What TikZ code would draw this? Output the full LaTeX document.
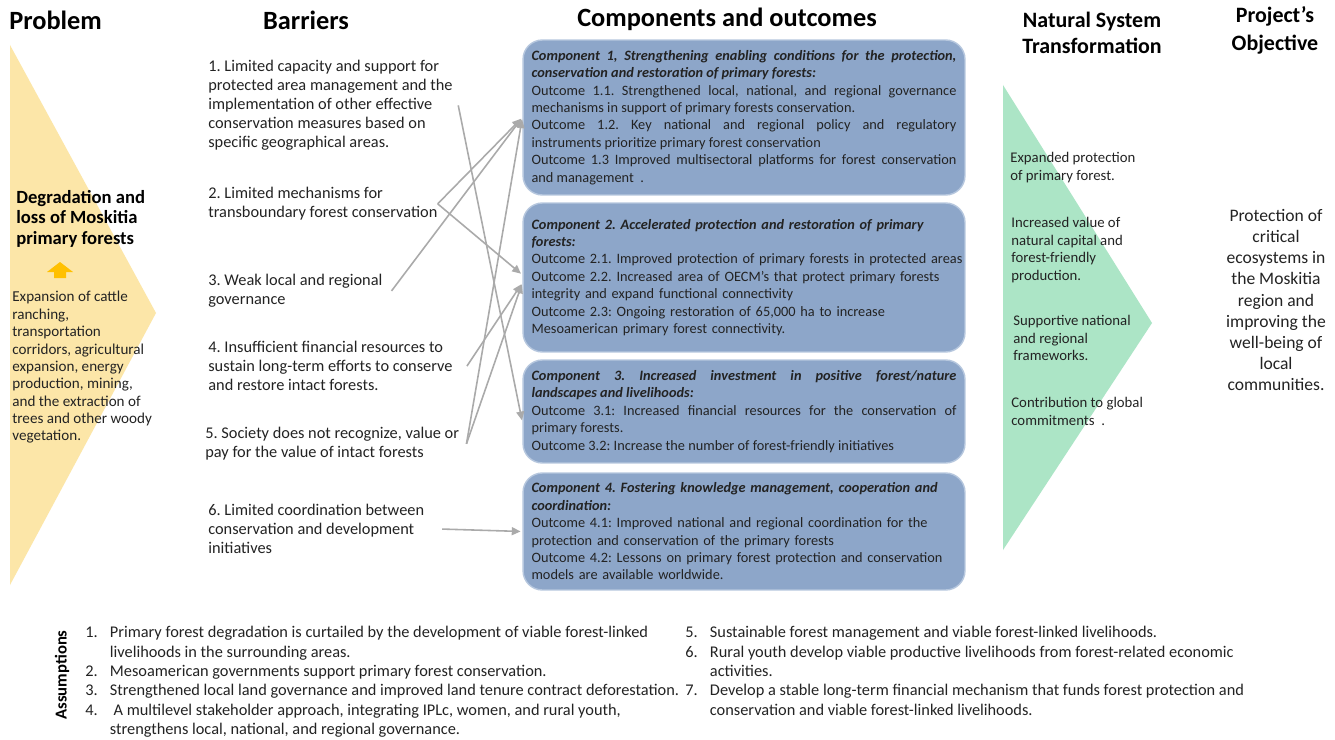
\documentclass[tikz,border=0pt]{standalone}
\usepackage{fontspec}
\setmainfont{Carlito}
\usetikzlibrary{arrows.meta, positioning}
\usepackage{xcolor}
\definecolor{compBlue}{RGB}{141,166,201}
\definecolor{compEdge}{RGB}{182,199,222}
\definecolor{probYellow}{RGB}{252,230,168}
\definecolor{natGreen}{RGB}{172,229,198}
\definecolor{linkGray}{RGB}{170,170,170}
\definecolor{upOrange}{RGB}{255,192,0}
\definecolor{inkDark}{RGB}{35,35,35}
\frenchspacing

\begin{document}
\begin{tikzpicture}[x=0.02cm, y=-0.02cm,
    header/.style={font=\fontsize{15}{17}\selectfont\bfseries, align=center, inner sep=0pt},
    subheader/.style={font=\fontsize{12.5}{15}\selectfont\bfseries, align=center, inner sep=0pt},
    barrier/.style={anchor=north west, inner sep=0pt, align=left, text=inkDark, font=\fontsize{9.3}{10.8}\selectfont},
    comp/.style={rectangle, draw=compEdge, fill=compBlue, line width=0.8pt, rounded corners=11pt, minimum width=8.84cm, text width=8.5cm, inner xsep=0.17cm, text=inkDark, font=\fontsize{8.15}{9.9}\selectfont},
    sideText/.style={anchor=north west, inner sep=0pt, align=left, text=inkDark, font=\fontsize{8.4}{10}\selectfont},
    assume/.style={anchor=north west, inner sep=0pt, text=inkDark, font=\fontsize{9.3}{11}\selectfont},
    link/.style={draw=linkGray, line width=0.9pt, shorten >=1pt, -{Triangle[length=5pt, width=4.5pt]}}
]
\fill[white] (0,0) rectangle (1335,740);
\useasboundingbox (0,0) rectangle (1335,740);

\fill[probYellow] (10,45) -- (156,313) -- (10,585) -- cycle;
\fill[natGreen] (1003,85) -- (1152,323) -- (1003,550) -- cycle;

\node[header, anchor=west] (hProblem) at (9,20) {Problem};
\node[header] (hBarriers) at (306,20) {Barriers};
\node[header] (hComponents) at (727,19) {Components and outcomes};
\node[subheader] (hNatural) at (1092,33) {Natural System\\Transformation};
\node[subheader, font=\fontsize{12.5}{16}\selectfont\bfseries] (hObjective) at (1275,30) {Project’s\\Objective};

\node[anchor=north west, inner sep=0pt, align=left, font=\fontsize{10.6}{11.6}\selectfont\bfseries] (loss) at (16,190) {Degradation and\\loss of Moskitia\\primary forests};
\fill[upOrange] (47,272) -- (60,262) -- (73,272) -- (66,272) -- (66,278) -- (54,278) -- (54,272) -- cycle;
\node[sideText, font=\fontsize{8.6}{9.9}\selectfont] (drivers) at (12,291) {Expansion of cattle\\ranching,\\transportation\\corridors, agricultural\\expansion, energy\\production, mining,\\and the extraction of\\trees and other woody\\vegetation.};

\node[barrier] (B1) at (208,60) {1. Limited capacity and support for\\protected area management and the\\implementation of other effective\\conservation measures based on\\specific geographical areas.};
\node[barrier] (B2) at (208,187) {2. Limited mechanisms for\\transboundary forest conservation};
\node[barrier] (B3) at (208,274) {3. Weak local and regional\\governance};
\node[barrier] (B4) at (208,341) {4. Insufficient financial resources to\\sustain long-term efforts to conserve\\and restore intact forests.};
\node[barrier] (B5) at (205,427) {5. Society does not recognize, value or\\pay for the value of intact forests};
\node[barrier] (B6) at (208,504) {6. Limited coordination between\\conservation and development\\initiatives};

\node[comp, minimum height=3.1cm, align=justify] (C1) at (744,117.5) {{\bfseries\itshape Component 1, Strengthening enabling conditions for the protection,\linebreak conservation and restoration of primary forests:}\\
Outcome 1.1. Strengthened local, national, and regional governance\linebreak mechanisms in support of primary forests conservation.\\
Outcome 1.2. Key national and regional policy and regulatory\linebreak instruments prioritize primary forest conservation\\
Outcome 1.3 Improved multisectoral platforms for forest conservation\linebreak and management\ \ .};
\node[comp, minimum height=2.98cm, align=left] (C2) at (744,277.5) {{\bfseries\itshape Component 2. Accelerated protection and restoration of primary\\forests:}\\
\makebox[\linewidth][l]{Outcome 2.1. Improved protection of primary forests in protected areas}\\
Outcome 2.2. Increased area of OECM’s that protect primary forests\\
integrity and expand functional connectivity\\
Outcome 2.3: Ongoing restoration of 65,000 ha to increase\\
Mesoamerican primary forest connectivity.};
\node[comp, minimum height=2.06cm, align=justify] (C3) at (744,411.5) {{\bfseries\itshape Component 3. Increased investment in positive forest/nature\linebreak landscapes and livelihoods:}\\
Outcome 3.1: Increased financial resources for the conservation of\linebreak primary forests.\\
Outcome 3.2: Increase the number of forest-friendly initiatives};
\node[comp, minimum height=2.34cm, align=left] (C4) at (744,531.5) {{\bfseries\itshape Component 4. Fostering knowledge management, cooperation and\\coordination:}\\
Outcome 4.1: Improved national and regional coordination for the\\
protection and conservation of the primary forests\\
Outcome 4.2: Lessons on primary forest protection and conservation\\
models are available worldwide.};

\draw[link] ([xshift=3pt]B1.east) -- ([yshift=-6pt]C3.west);
\draw[link] (B2.east) -- (C1.west);
\draw[link] (B2.east) -- ([yshift=1.5pt]C2.west);
\draw[link] ([xshift=5pt]B3.east) -- (C1.west);
\draw[link] ([xshift=8pt]B4.east) -- ([yshift=-3pt]C2.west);
\draw[link] ([xshift=4pt]B5.east) -- ([yshift=-3pt]C2.west);
\draw[link] ([xshift=4pt]B5.east) -- (C1.west);
\draw[link] ([xshift=10pt]B6.east) -- (C4.west);

\node[sideText] (N1) at (1010,152) {Expanded protection\\of primary forest.};
\node[sideText] (N2) at (1011,217) {Increased value of\\natural capital and\\forest-friendly\\production.};
\node[sideText] (N3) at (1013,315) {Supportive national\\and regional\\frameworks.};
\node[sideText] (N4) at (1011,397) {Contribution to global\\commitments\ \ .};

\node[align=center, inner sep=0pt, text=inkDark, font=\fontsize{10}{12}\selectfont] (goal) at (1276,300) {Protection of\\critical\\ecosystems in\\the Moskitia\\region and\\improving the\\well-being of\\local\\communities.};

\node[rotate=90, inner sep=0pt, font=\fontsize{9.5}{11}\selectfont\bfseries] (hAssume) at (62,675) {Assumptions};
\node[assume] (asmLeft) at (85,624) {\begin{tabular}{@{}p{14pt}@{}l@{}}
1. & Primary forest degradation is curtailed by the development of viable forest-linked\\
   & livelihoods in the surrounding areas.\\
2. & Mesoamerican governments support primary forest conservation.\\
3. & Strengthened local land governance and improved land tenure contract deforestation.\\
4. & \ A multilevel stakeholder approach, integrating IPLc, women, and rural youth,\\
   & strengthens local, national, and regional governance.
\end{tabular}};
\node[assume] (asmRight) at (685,624) {\begin{tabular}{@{}p{14pt}@{}l@{}}
5. & Sustainable forest management and viable forest-linked livelihoods.\\
6. & Rural youth develop viable productive livelihoods from forest-related economic\\
   & activities.\\
7. & Develop a stable long-term financial mechanism that funds forest protection and\\
   & conservation and viable forest-linked livelihoods.
\end{tabular}};
\end{tikzpicture}
\end{document}
